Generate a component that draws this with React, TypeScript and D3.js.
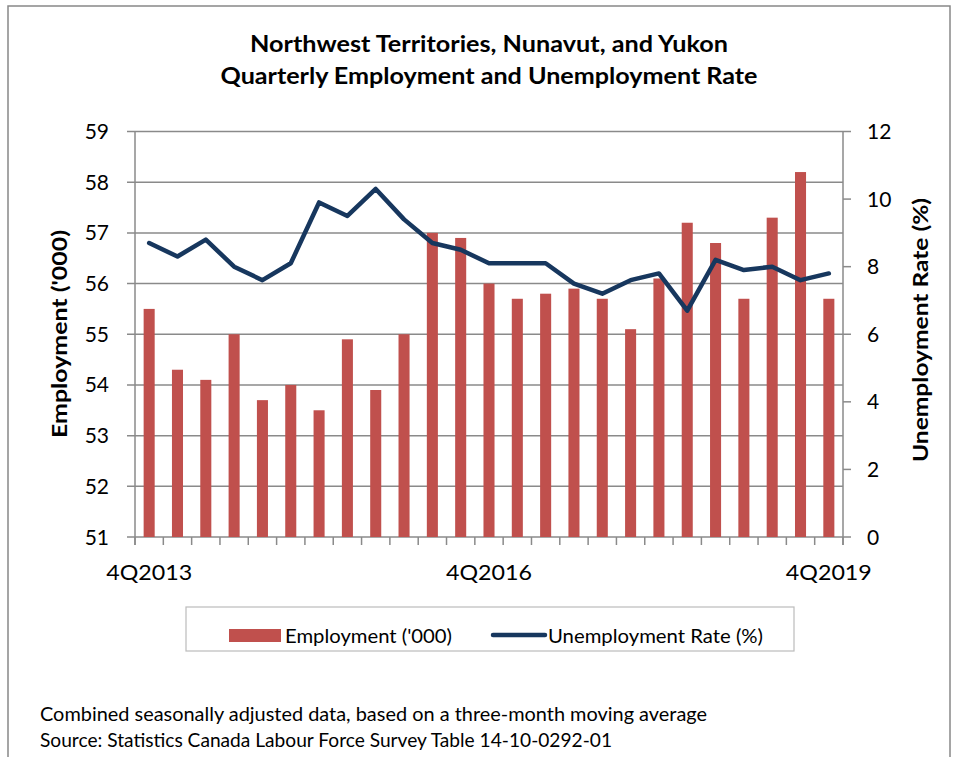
import * as d3 from "d3";

const quarters = [
  "4Q2013", "1Q2014", "2Q2014", "3Q2014", "4Q2014", "1Q2015", "2Q2015", "3Q2015", "4Q2015",
  "1Q2016", "2Q2016", "3Q2016", "4Q2016", "1Q2017", "2Q2017", "3Q2017", "4Q2017",
  "1Q2018", "2Q2018", "3Q2018", "4Q2018", "1Q2019", "2Q2019", "3Q2019", "4Q2019",
];
const employment = [
  55.5, 54.3, 54.1, 55.0, 53.7, 54.0, 53.5, 54.9, 53.9, 55.0, 57.0, 56.9, 56.0,
  55.7, 55.8, 55.9, 55.7, 55.1, 56.1, 57.2, 56.8, 55.7, 57.3, 58.2, 55.7,
];
const unemploymentRate = [
  8.7, 8.3, 8.8, 8.0, 7.6, 8.1, 9.9, 9.5, 10.3, 9.4, 8.7, 8.5, 8.1,
  8.1, 8.1, 7.5, 7.2, 7.6, 7.8, 6.7, 8.2, 7.9, 8.0, 7.6, 7.8,
];
const shownLabels = ["4Q2013", "4Q2016", "4Q2019"];
const leftTicks = [51, 52, 53, 54, 55, 56, 57, 58, 59];
const rightTicks = [0, 2, 4, 6, 8, 10, 12];

const FONT = "Lato, 'Open Sans', sans-serif";
const GRID = "#8a8a8a";
const BAR = "#C0504D";
const LINE = "#17375E";
const FIT = "spacingAndGlyphs";

export default function App() {
  const W = 956, H = 757;
  const plot = { left: 135, right: 843, top: 131.5, bottom: 537 };

  const yL = d3.scaleLinear().domain([51, 59]).range([plot.bottom, plot.top]);
  const yR = d3.scaleLinear().domain([0, 12]).range([plot.bottom, plot.top]);
  const x = d3.scaleBand<string>().domain(quarters).range([plot.left, plot.right]).paddingInner(0.61).paddingOuter(0.305);
  const step = x.step();
  const cx = (q: string) => (x(q) ?? 0) + x.bandwidth() / 2;

  const line = d3.line<number>().x((_, i) => cx(quarters[i])).y(d => yR(d));

  return (
    <svg width={W} height={H} style={{ position: "absolute", left: 0, top: 0, background: "#fff" }} fontFamily={FONT}>
      <rect x={8} y={6} width={942} height={H} fill="#fff" stroke="#888" strokeWidth={1.5} />

      <text x={489} y={52} textAnchor="middle" fontSize={22} fontWeight="bold" textLength={478} lengthAdjust={FIT}>
        Northwest Territories, Nunavut, and Yukon
      </text>
      <text x={489} y={84} textAnchor="middle" fontSize={22} fontWeight="bold" textLength={537} lengthAdjust={FIT}>
        Quarterly Employment and Unemployment Rate
      </text>

      {/* gridlines + left ticks */}
      {leftTicks.map(t => (
        <g key={t}>
          <line x1={plot.left - 8} x2={plot.right} y1={yL(t)} y2={yL(t)} stroke={GRID} strokeWidth={1.5} />
          <text x={109} y={yL(t)} dy="0.36em" textAnchor="end" fontSize={21}>{t}</text>
        </g>
      ))}
      <line x1={plot.left} x2={plot.left} y1={plot.top} y2={plot.bottom + 8} stroke={GRID} strokeWidth={1.5} />
      <line x1={plot.right} x2={plot.right} y1={plot.top} y2={plot.bottom + 8} stroke={GRID} strokeWidth={1.5} />

      {rightTicks.map(t => (
        <g key={t}>
          <line x1={plot.right} x2={plot.right + 8} y1={yR(t)} y2={yR(t)} stroke={GRID} strokeWidth={1.5} />
          <text x={867} y={yR(t)} dy="0.36em" textAnchor="start" fontSize={21}>{t}</text>
        </g>
      ))}

      {/* category ticks between quarters */}
      {d3.range(quarters.length + 1).map(i => (
        <line key={i} x1={plot.left + step * i} x2={plot.left + step * i} y1={plot.bottom} y2={plot.bottom + 8} stroke={GRID} strokeWidth={1.5} />
      ))}
      {shownLabels.map(q => (
        <text key={q} x={cx(q)} y={580} textAnchor="middle" fontSize={21} textLength={86} lengthAdjust={FIT}>{q}</text>
      ))}

      {/* bars */}
      {employment.map((v, i) => (
        <rect key={i} x={x(quarters[i])} y={yL(v)} width={x.bandwidth()} height={plot.bottom - yL(v)} fill={BAR} />
      ))}

      <path d={line(unemploymentRate) ?? ""} fill="none" stroke={LINE} strokeWidth={4.5} strokeLinejoin="round" strokeLinecap="round" />

      <text transform={`translate(67,334) rotate(-90)`} textAnchor="middle" fontSize={21} fontWeight="bold" textLength={208} lengthAdjust={FIT}>
        Employment ('000)
      </text>
      <text transform={`translate(928,330) rotate(-90)`} textAnchor="middle" fontSize={21} fontWeight="bold" textLength={264} lengthAdjust={FIT}>
        Unemployment Rate (%)
      </text>

      {/* legend */}
      <rect x={186} y={607} width={608} height={44} fill="#fff" stroke="#bbb" strokeWidth={1.2} />
      <rect x={229} y={629} width={52} height={13} fill={BAR} />
      <text x={285} y={636} dy="0.36em" fontSize={19} textLength={167} lengthAdjust={FIT}>Employment ('000)</text>
      <line x1={493} x2={545} y1={635} y2={635} stroke={LINE} strokeWidth={4.5} strokeLinecap="round" />
      <text x={548} y={636} dy="0.36em" fontSize={19} textLength={215} lengthAdjust={FIT}>Unemployment Rate (%)</text>

      <text x={40} y={721} fontSize={19} textLength={667} lengthAdjust={FIT}>Combined seasonally adjusted data, based on a three-month moving average</text>
      <text x={40} y={747} fontSize={19} textLength={572} lengthAdjust={FIT}>Source: Statistics Canada Labour Force Survey Table 14-10-0292-01</text>
    </svg>
  );
}
